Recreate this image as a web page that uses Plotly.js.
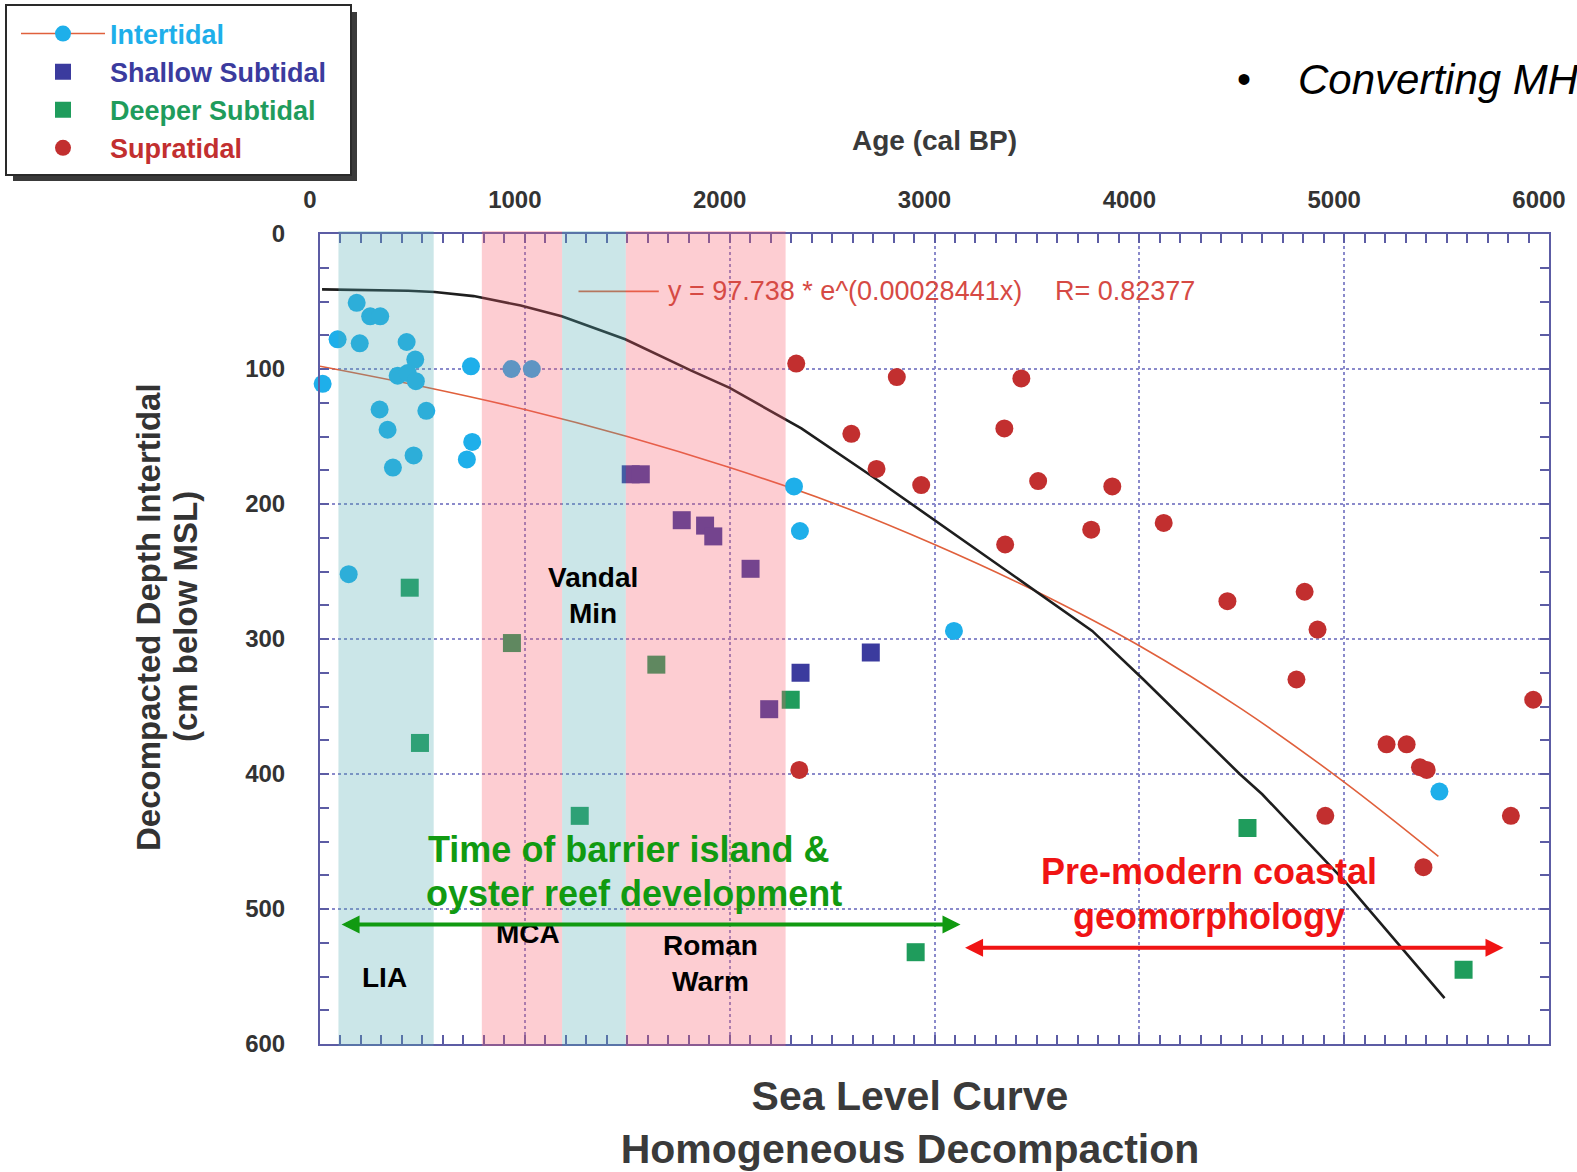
<!DOCTYPE html>
<html>
<head>
<meta charset="utf-8">
<script src="https://cdn.plot.ly/plotly-3.0.1.min.js"></script>
<style>
html,body{margin:0;padding:0;background:#ffffff;}
#chart{width:1577px;height:1172px;}
</style>
</head>
<body>
<div id="chart"></div>
<script>
// ---------------- data ----------------
const intertidalAge   = [13, -5, 86, 179, 194, 245, 294, 423, 465, 379, 428, 468, 291, 330, 519, 356, 457, 140, 737, 743, 717, 935, 1034, 2314, 2343, 3095, 5465];
const intertidalDepth = [111, 154, 78, 51, 81, 61, 61, 80, 93, 105, 103, 109, 130, 145, 131, 173, 164, 252, 98, 154, 167, 100, 100, 187, 220, 294, 413];

const shallowAge   = [1517, 1566, 1766, 1880, 1920, 2102, 2193, 2346, 2689];
const shallowDepth = [178, 178, 212, 216, 224, 248, 352, 325, 310];

const deeperAge   = [438, 488, 937, 1268, 1642, 2298, 2908, 4528, 5583];
const deeperDepth = [262, 377, 303, 431, 319, 345, 532, 440, 545];

const supraAge   = [2325, 2816, 3424, 3341, 2594, 2717, 2935, 3506, 3868, 3345, 3765, 4119, 4430, 4807, 4870, 4767, 5923, 5207, 5305, 5370, 5403, 2340, 4908, 5814, 5387];
const supraDepth = [96, 106, 107, 144, 148, 174, 186, 183, 187, 230, 219, 214, 272, 265, 293, 330, 345, 378, 378, 395, 397, 397, 431, 431, 469];

// sea level curve (black)
const curveAge   = [10, 430, 560, 750, 980, 1180, 1490, 1810, 2000, 2280, 2350, 2700, 3000, 3340, 3770, 4020, 4490, 4600, 5000, 5490];
const curveDepth = [41, 42, 43, 46, 53, 61, 78, 101, 114, 138, 144, 180, 212, 248, 294, 330, 400, 415, 479, 566];

// exponential fit line
const fitAge   = [0, 500, 1000, 1500, 2000, 2500, 3000, 3500, 4000, 4500, 5000, 5460];
const fitDepth = [98, 113, 130, 150, 173, 199, 230, 265, 305, 352, 406, 461];

const xTickVals = [0, 1000, 2000, 3000, 4000, 5000, 6000];
const xTickText = ['0', '1000', '2000', '3000', '4000', '5000', '6000'];
const yTickVals = [0, 100, 200, 300, 400, 500, 600];
const yTickText = ['0', '100', '200', '300', '400', '500', '600'];

// climate periods (shaded bands)
const periodName  = ['LIA', 'MCA', 'Vandal Min', 'Roman Warm'];
const periodStart = [90, 790, 1182, 1493];
const periodEnd   = [555, 1182, 1493, 2273];
const periodKind  = ['cool', 'warm', 'cool', 'warm'];

// ---------------- styling ----------------
const FONT = "Arial, 'Liberation Sans', Helvetica, sans-serif";
const C_INTER = '#1eafea';
const C_SHALLOW = '#3b3b9e';
const C_DEEPER = '#1f9c5c';
const C_SUPRA = '#c22f2f';
const C_FIT = '#e0603c';
const AXIS = '#5c5ca4';
const GRID = '#8a8acb';

// pixel -> paper helpers (plot area 320..1549 x 234..1044)
const L = 320, T = 234, W = 1229, H = 810;
const px = p => (p - L) / W;
const py = p => (T + H - p) / H;

// Intertidal markers with gaps so the legend shows line + marker but no connecting lines
const interX = [], interY = [];
intertidalAge.forEach((a, i) => { interX.push(a, null); interY.push(intertidalDepth[i], null); });

const traces = [
  {x: fitAge, y: fitDepth, mode: 'lines', line: {color: C_FIT, width: 1.6, shape: 'spline'}, showlegend: false, hoverinfo: 'skip'},
  {x: curveAge, y: curveDepth, mode: 'lines', line: {color: '#1e1e1e', width: 2.6}, showlegend: false, hoverinfo: 'skip'},
  {x: interX, y: interY, name: '<span style="color:' + C_INTER + '">Intertidal</span>', mode: 'lines+markers', connectgaps: false,
   line: {color: C_FIT, width: 1.6}, marker: {symbol: 'circle', size: 18, color: C_INTER}, cliponaxis: false, legendgroup: 'a'},
  {x: shallowAge, y: shallowDepth, name: '<span style="color:' + C_SHALLOW + '">Shallow Subtidal</span>', mode: 'markers',
   marker: {symbol: 'square', size: 18, color: C_SHALLOW}, cliponaxis: false, legendgroup: 'b'},
  {x: deeperAge, y: deeperDepth, name: '<span style="color:' + C_DEEPER + '">Deeper Subtidal</span>', mode: 'markers',
   marker: {symbol: 'square', size: 18, color: C_DEEPER}, cliponaxis: false, legendgroup: 'c'},
  {x: supraAge, y: supraDepth, name: '<span style="color:' + C_SUPRA + '">Supratidal</span>', mode: 'markers',
   marker: {symbol: 'circle', size: 18, color: C_SUPRA}, cliponaxis: false, legendgroup: 'd'}
];

const shapes = [];
// equation legend sample line
shapes.push({type: 'line', xref: 'x', yref: 'y', x0: 1262, x1: 1654, y0: 42.5, y1: 42.5, line: {color: C_FIT, width: 1.6}, layer: 'above'});
// period bands
periodStart.forEach((s, i) => {
  shapes.push({type: 'rect', xref: 'x', yref: 'paper', x0: s, x1: periodEnd[i], y0: -0.0025, y1: 1.0037,
    fillcolor: periodKind[i] === 'warm' ? 'rgb(248,88,105)' : 'rgb(82,172,178)', opacity: 0.3,
    line: {width: 0}, layer: 'above'});
});
// legend box shadow and frame
shapes.push({type: 'rect', xref: 'paper', yref: 'paper', x0: px(13), x1: px(357), y0: py(181), y1: py(12), fillcolor: '#3a3a3a', line: {width: 0}, layer: 'above'});
shapes.push({type: 'rect', xref: 'paper', yref: 'paper', x0: px(6), x1: px(351), y0: py(175), y1: py(5), fillcolor: '#ffffff', line: {color: '#2a2a2a', width: 2}, layer: 'above'});

const annotations = [
  // equation
  {xref: 'x', yref: 'y', x: 1689, y: 42.5, text: 'y = 97.738 * e^(0.00028441x)', xanchor: 'left', yanchor: 'middle', showarrow: false,
   font: {family: FONT, size: 27, color: '#d64a44'}},
  {xref: 'x', yref: 'y', x: 3579, y: 42.5, text: 'R= 0.82377', xanchor: 'left', yanchor: 'middle', showarrow: false,
   font: {family: FONT, size: 27, color: '#d64a44'}},
  // period labels
  {xref: 'x', yref: 'y', x: 314, y: 551, text: periodName[0], showarrow: false, font: {family: FONT, size: 28, color: '#000', weight: 'bold'}},
  {xref: 'x', yref: 'y', x: 1016, y: 518, text: periodName[1], showarrow: false, font: {family: FONT, size: 28, color: '#000', weight: 'bold'}},
  {xref: 'x', yref: 'y', x: 1335, y: 268, text: 'Vandal<br>Min', showarrow: false, font: {family: FONT, size: 28, color: '#000', weight: 'bold'}},
  {xref: 'x', yref: 'y', x: 1905, y: 540, text: 'Roman<br>Warm', showarrow: false, font: {family: FONT, size: 28, color: '#000', weight: 'bold'}},
  // green statement and arrow
  {xref: 'x', yref: 'y', x: 1507, y: 455.7, text: 'Time of barrier island &amp;', showarrow: false, font: {family: FONT, size: 36, color: '#119a11', weight: 'bold'}},
  {xref: 'x', yref: 'y', x: 1532, y: 488.5, text: 'oyster reef development', showarrow: false, font: {family: FONT, size: 36, color: '#119a11', weight: 'bold'}},
  {xref: 'x', yref: 'y', x: 3127, y: 511.5, axref: 'x', ayref: 'y', ax: 98, ay: 511.5, text: '', showarrow: true,
   arrowhead: 2, startarrowhead: 2, arrowside: 'end+start', arrowwidth: 4, arrowsize: 0.9, startarrowsize: 0.9, arrowcolor: '#119a11'},
  // red statement and arrow
  {xref: 'x', yref: 'y', x: 4340, y: 472, text: 'Pre-modern coastal', showarrow: false, font: {family: FONT, size: 36, color: '#f01414', weight: 'bold'}},
  {xref: 'x', yref: 'y', x: 4340, y: 505.6, text: 'geomorphology', showarrow: false, font: {family: FONT, size: 36, color: '#f01414', weight: 'bold'}},
  {xref: 'x', yref: 'y', x: 5778, y: 528.7, axref: 'x', ayref: 'y', ax: 3142, ay: 528.7, text: '', showarrow: true,
   arrowhead: 2, startarrowhead: 2, arrowside: 'end+start', arrowwidth: 4, arrowsize: 0.9, startarrowsize: 0.9, arrowcolor: '#f01414'},
  // y axis title (two lines)
  {xref: 'paper', yref: 'paper', x: px(148), y: py(617), text: 'Decompacted Depth Intertidal', textangle: -90, showarrow: false,
   xanchor: 'center', yanchor: 'middle', font: {family: FONT, size: 33, color: '#333', weight: 'bold'}},
  {xref: 'paper', yref: 'paper', x: px(185), y: py(617), text: '(cm below MSL)', textangle: -90, showarrow: false,
   xanchor: 'center', yanchor: 'middle', font: {family: FONT, size: 33, color: '#333', weight: 'bold'}},
  // slide bullet text (cut at the right edge)
  {xref: 'paper', yref: 'paper', x: px(1244), y: py(79), text: '•', showarrow: false, xanchor: 'center', yanchor: 'middle',
   font: {family: FONT, size: 40, color: '#000'}},
  {xref: 'paper', yref: 'paper', x: px(1296), y: py(79), text: '<i>Converting MH</i>', showarrow: false, xanchor: 'left', yanchor: 'middle',
   font: {family: FONT, size: 42, color: '#000'}}
];

const layout = {
  width: 1577, height: 1172,
  margin: {l: L, r: 1577 - L - W, t: T, b: 1172 - T - H, pad: 0, autoexpand: false},
  paper_bgcolor: '#ffffff', plot_bgcolor: '#ffffff',
  font: {family: FONT, color: '#333'},
  title: {text: 'Sea Level Curve<br>Homogeneous Decompaction', x: 910 / 1577, xanchor: 'center', xref: 'container',
          y: 1 - 1110 / 1172, yanchor: 'middle', yref: 'container',
          font: {family: FONT, size: 41, color: '#3a3a3a', weight: 'bold'}},
  xaxis: {
    range: [0, 6000], side: 'top', tickmode: 'array', tickvals: xTickVals, ticktext: xTickText,
    ticks: 'inside', ticklen: 9, tickwidth: 1.5, tickcolor: AXIS,
    showline: true, linecolor: AXIS, linewidth: 2, mirror: 'ticks',
    showgrid: true, gridcolor: GRID, griddash: 'dot', gridwidth: 1.5, zeroline: false,
    tickfont: {family: FONT, size: 24, color: '#333', weight: 'bold'},
    ticklabelshift: -10, ticklabelstandoff: 14,
    minor: {tick0: 0, dtick: 100, ticks: 'inside', ticklen: 9, tickwidth: 1.5, tickcolor: AXIS, showgrid: false},
    title: {text: 'Age (cal BP)', standoff: 28, font: {family: FONT, size: 28, color: '#3a3a3a', weight: 'bold'}}
  },
  yaxis: {
    range: [600, 0], tickmode: 'array', tickvals: yTickVals, ticktext: yTickText,
    ticks: 'inside', ticklen: 9, tickwidth: 1.5, tickcolor: AXIS,
    showline: true, linecolor: AXIS, linewidth: 2, mirror: 'ticks',
    showgrid: true, gridcolor: GRID, griddash: 'dot', gridwidth: 1.5, zeroline: false,
    tickfont: {family: FONT, size: 24, color: '#333', weight: 'bold'},
    ticklabelstandoff: 28,
    minor: {tick0: 0, dtick: 25, ticks: 'inside', ticklen: 9, tickwidth: 1.5, tickcolor: AXIS, showgrid: false}
  },
  showlegend: true,
  legend: {x: px(16), y: py(9.5), xanchor: 'left', yanchor: 'top', bgcolor: 'rgba(0,0,0,0)', borderwidth: 0,
           font: {family: FONT, size: 27, weight: 'bold'}, itemwidth: 84, tracegroupgap: 0, traceorder: 'grouped'},
  shapes: shapes,
  annotations: annotations
};

Plotly.newPlot('chart', traces, layout, {displayModeBar: false, responsive: false});
</script>
</body>
</html>
